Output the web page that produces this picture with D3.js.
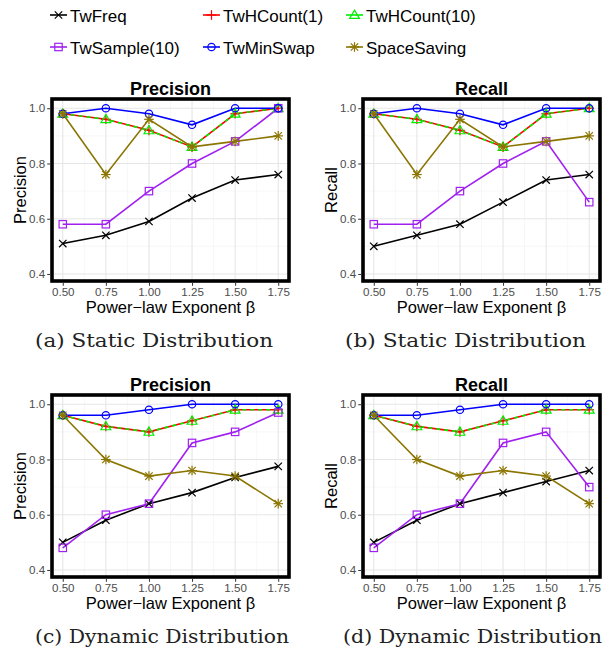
<!DOCTYPE html>
<html>
<head>
<meta charset="utf-8">
<script src="https://cdn.jsdelivr.net/npm/d3@7"></script>
<style>
  html, body { margin: 0; padding: 0; background: #fff; }
  svg { display: block; }
  .tick text { font-family: "Liberation Sans", Arial, sans-serif; }
</style>
</head>
<body>
<svg id="chart" width="612" height="650"></svg>
<script>
// x values (power-law exponent)
const betas = [0.50, 0.75, 1.00, 1.25, 1.50, 1.75];
const xTickLabels = ["0.50", "0.75", "1.00", "1.25", "1.50", "1.75"];
const yTicks = [0.4, 0.6, 0.8, 1.0];

const seriesNames = ["TwFreq", "TwHCount(1)", "TwHCount(10)", "TwSample(10)", "TwMinSwap", "SpaceSaving"];
const seriesColors = ["#000000", "#FF0000", "#00EE00", "#A020F0", "#0000FF", "#8B7500"];
const seriesShapes = ["x", "plus", "triangle", "square", "circle", "asterisk"];
const seriesDash = [null, null, "4,4", null, null, null];

// values per series, same order as seriesNames
const staticPrecision = [
    [0.51, 0.54, 0.59, 0.675, 0.74, 0.76],
    [0.98, 0.96, 0.92, 0.86, 0.98, 1.00],
    [0.98, 0.96, 0.92, 0.86, 0.98, 1.00],
    [0.58, 0.58, 0.70, 0.80, 0.88, 1.00],
    [0.98, 1.00, 0.98, 0.94, 1.00, 1.00],
    [0.98, 0.76, 0.96, 0.86, 0.88, 0.90]
];
const staticRecall = [
    [0.50, 0.54, 0.58, 0.66, 0.74, 0.76],
    [0.98, 0.96, 0.92, 0.86, 0.98, 1.00],
    [0.98, 0.96, 0.92, 0.86, 0.98, 1.00],
    [0.58, 0.58, 0.70, 0.80, 0.88, 0.66],
    [0.98, 1.00, 0.98, 0.94, 1.00, 1.00],
    [0.98, 0.76, 0.96, 0.86, 0.88, 0.90]
];
const dynamicPrecision = [
    [0.50, 0.58, 0.64, 0.68, 0.735, 0.775],
    [0.96, 0.92, 0.90, 0.94, 0.98, 0.98],
    [0.96, 0.92, 0.90, 0.94, 0.98, 0.98],
    [0.48, 0.60, 0.64, 0.86, 0.90, 0.97],
    [0.96, 0.96, 0.98, 1.00, 1.00, 1.00],
    [0.96, 0.80, 0.74, 0.76, 0.74, 0.64]
];
const dynamicRecall = [
    [0.50, 0.58, 0.64, 0.68, 0.72, 0.76],
    [0.96, 0.92, 0.90, 0.94, 0.98, 0.98],
    [0.96, 0.92, 0.90, 0.94, 0.98, 0.98],
    [0.48, 0.60, 0.64, 0.86, 0.90, 0.70],
    [0.96, 0.96, 0.98, 1.00, 1.00, 1.00],
    [0.96, 0.80, 0.74, 0.76, 0.74, 0.64]
];

const panels = [
    { title: "Precision", ylab: "Precision", caption: "(a) Static Distribution", data: staticPrecision, col: 0, row: 0, capX: 35, capW: 238 },
    { title: "Recall", ylab: "Recall", caption: "(b) Static Distribution", data: staticRecall, col: 1, row: 0, capX: 345, capW: 241 },
    { title: "Precision", ylab: "Precision", caption: "(c) Dynamic Distribution", data: dynamicPrecision, col: 0, row: 1, capX: 35, capW: 254 },
    { title: "Recall", ylab: "Recall", caption: "(d) Dynamic Distribution", data: dynamicRecall, col: 1, row: 1, capX: 343, capW: 259 }
];

const SANS = '"Liberation Sans", Arial, Helvetica, sans-serif';
const SERIF = '"DejaVu Serif", "Liberation Serif", serif';
const svg = d3.select("#chart");

function drawShape(g, shape, x, y, color) {
    const s = 3.7;
    const ln = (x1, y1, x2, y2) => g.append("line").attr("x1", x1).attr("y1", y1).attr("x2", x2).attr("y2", y2)
        .attr("stroke", color).attr("stroke-width", 1.2);
    if (shape === "x") { ln(x - s, y - s, x + s, y + s); ln(x - s, y + s, x + s, y - s); }
    else if (shape === "plus") { ln(x - s * 1.3, y, x + s * 1.3, y); ln(x, y - s * 1.3, x, y + s * 1.3); }
    else if (shape === "asterisk") {
        ln(x - s, y - s, x + s, y + s); ln(x - s, y + s, x + s, y - s);
        ln(x - s * 1.3, y, x + s * 1.3, y); ln(x, y - s * 1.3, x, y + s * 1.3);
    }
    else if (shape === "triangle") {
        const h = s * 1.15;
        g.append("path").attr("d", `M${x},${y - h * 1.15}L${x + h * 1.15},${y + h * 0.8}L${x - h * 1.15},${y + h * 0.8}Z`)
            .attr("fill", "none").attr("stroke", color).attr("stroke-width", 1.2);
    }
    else if (shape === "square") {
        g.append("rect").attr("x", x - s).attr("y", y - s).attr("width", 2 * s).attr("height", 2 * s)
            .attr("fill", "none").attr("stroke", color).attr("stroke-width", 1.2);
    }
    else if (shape === "circle") {
        g.append("circle").attr("cx", x).attr("cy", y).attr("r", s)
            .attr("fill", "none").attr("stroke", color).attr("stroke-width", 1.2);
    }
}

function renderPanel(p) {
    const left = 52 + p.col * 311, top = 99 + p.row * 296, w = 237, h = 182;
    const x = d3.scaleLinear().domain([0.4375, 1.8125]).range([left, left + w]);
    const y = d3.scaleLinear().domain([0.3745, 1.0335]).range([top + h, top]);
    const G = svg.append("g");

    // grid, minor then major
    const minorX = betas.slice(1).map((b, i) => (b + betas[i]) / 2);
    const minorY = [0.5, 0.7, 0.9];
    minorX.forEach(v => G.append("line").attr("x1", x(v)).attr("x2", x(v)).attr("y1", top).attr("y2", top + h)
        .attr("stroke", "#F2F2F2").attr("stroke-width", 0.6));
    minorY.forEach(v => G.append("line").attr("x1", left).attr("x2", left + w).attr("y1", y(v)).attr("y2", y(v))
        .attr("stroke", "#F2F2F2").attr("stroke-width", 0.6));
    betas.forEach(v => G.append("line").attr("x1", x(v)).attr("x2", x(v)).attr("y1", top).attr("y2", top + h)
        .attr("stroke", "#E6E6E6").attr("stroke-width", 1.1));
    yTicks.forEach(v => G.append("line").attr("x1", left).attr("x2", left + w).attr("y1", y(v)).attr("y2", y(v))
        .attr("stroke", "#E6E6E6").attr("stroke-width", 1.1));

    // lines first, then points (like ggplot layers)
    const line = d3.line().x((d, i) => x(betas[i])).y(d => y(d));
    p.data.forEach((vals, si) => {
        G.append("path").attr("d", line(vals)).attr("fill", "none")
            .attr("stroke", seriesColors[si]).attr("stroke-width", 1.6)
            .attr("stroke-dasharray", seriesDash[si]);
    });
    p.data.forEach((vals, si) => {
        vals.forEach((v, i) => drawShape(G, seriesShapes[si], x(betas[i]), y(v), seriesColors[si]));
    });

    // border
    G.append("rect").attr("x", left).attr("y", top).attr("width", w).attr("height", h)
        .attr("fill", "none").attr("stroke", "#000").attr("stroke-width", 3.6);

    // axes
    const ax = G.append("g").attr("transform", `translate(0,${top + h + 1.8})`)
        .call(d3.axisBottom(x).tickValues(betas).tickFormat((d, i) => xTickLabels[i]).tickSize(3).tickPadding(2));
    const ay = G.append("g").attr("transform", `translate(${left - 1.8},0)`)
        .call(d3.axisLeft(y).tickValues(yTicks).tickFormat(d3.format(".1f")).tickSize(3).tickPadding(2));
    [ax, ay].forEach(a => {
        a.select(".domain").remove();
        a.selectAll(".tick line").attr("stroke", "#333").attr("stroke-width", 1);
        a.selectAll(".tick text").attr("fill", "#4D4D4D").style("font-size", "11.6px");
    });

    G.append("text").attr("x", left + w / 2).attr("y", top - 4).attr("text-anchor", "middle")
        .attr("font-family", SANS).attr("font-weight", "bold").attr("font-size", 18).text(p.title);
    G.append("text").attr("x", left + w / 2).attr("y", top + h + 32).attr("text-anchor", "middle")
        .attr("font-family", SANS).attr("font-size", 16.5).text("Power\u2212law Exponent \u03B2");
    G.append("text").attr("transform", `translate(${left - 26},${top + h / 2}) rotate(-90)`)
        .attr("text-anchor", "middle").attr("font-family", SANS).attr("font-size", 16.5).text(p.ylab);
    G.append("text").attr("x", p.capX).attr("y", top + h + 66)
        .attr("textLength", p.capW).attr("lengthAdjust", "spacingAndGlyphs")
        .attr("font-family", SERIF).attr("font-size", 19).attr("fill", "#222").text(p.caption);
}

panels.forEach(renderPanel);

// legend, 3 columns x 2 rows
const legX = [50, 203, 346], legY = [15, 47];
seriesNames.forEach((name, i) => {
    const cx = legX[i % 3], cy = legY[Math.floor(i / 3)];
    const g = svg.append("g");
    g.append("line").attr("x1", cx).attr("x2", cx + 17).attr("y1", cy).attr("y2", cy)
        .attr("stroke", seriesColors[i]).attr("stroke-width", 1.6);
    drawShape(g, seriesShapes[i], cx + 8.5, cy, seriesColors[i]);
    g.append("text").attr("x", cx + 20).attr("y", cy + 6.5).attr("font-family", SANS).attr("font-size", 17)
        .text(name);
});
</script>
</body>
</html>
